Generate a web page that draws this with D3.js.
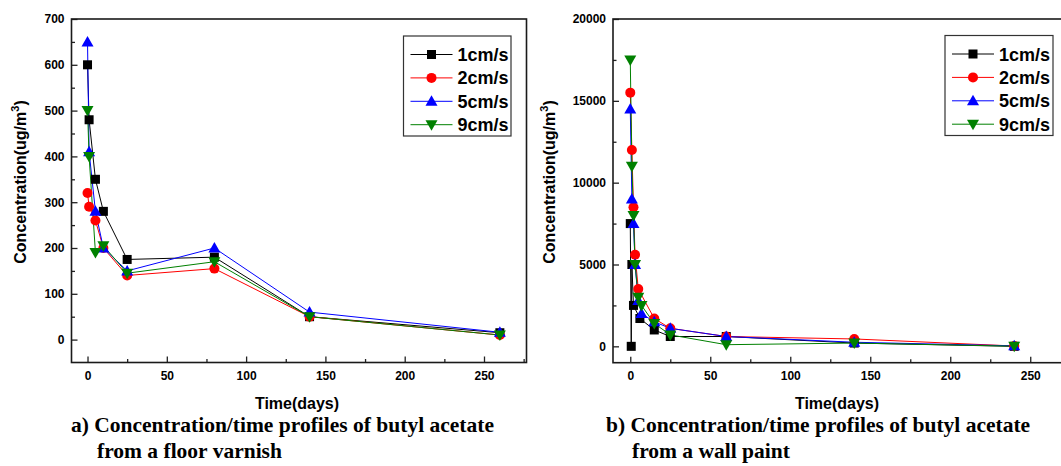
<!DOCTYPE html>
<html>
<head>
<meta charset="utf-8">
<script src="https://cdn.jsdelivr.net/npm/d3@7"></script>
<style>
  html, body { margin: 0; padding: 0; background: #fff; }
  svg { display: block; }
  .tick text { font-family: "Liberation Sans", Arial, sans-serif; font-weight: bold; font-size: 12px; fill: #000; }
</style>
</head>
<body>
<svg id="chart" width="1061" height="466"></svg>
<script>
// Air velocities compared in both panels
const speeds = ["1cm/s", "2cm/s", "5cm/s", "9cm/s"];
const speedColors = ["#000000", "#ff0000", "#0000ff", "#008000"];
const speedShapes = ["square", "circle", "up", "down"];

// Panel a) floor varnish: sampling days and concentrations (ug/m3)
const varnishDays = [0, 1, 5, 10, 25, 80, 140, 260];
const varnish1 = [600, 480, 350, 280, 175, 180, 50, 15];
const varnish2 = [320, 290, 260, 200, 140, 155, 50, 10];
const varnish5 = [650, 410, 280, 200, 150, 200, 60, 16];
const varnish9 = [500, 400, 190, 205, 145, 170, 50, 10];
const varnishYTicks = [0, 100, 200, 300, 400, 500, 600, 700];

// Panel b) wall paint: sampling days and concentrations (ug/m3)
const paintDays1 = [0, 0.6, 1, 2, 6, 15, 25, 60, 140, 240];
const paint1 = [7500, 0, 5000, 2500, 1700, 1000, 600, 600, 200, 0];
const paintDays2 = [0, 1, 2, 3, 5, 15, 25, 60, 140, 240];
const paint2 = [15500, 12000, 8500, 5600, 3500, 1700, 1100, 600, 450, 20];
const paintDays5 = [0, 1, 2, 3, 5, 7, 15, 25, 60, 140, 240];
const paint5 = [14500, 9000, 7500, 5000, 2800, 2000, 1500, 1100, 600, 250, 30];
const paintDays9 = [0, 1, 2, 3, 5, 7, 15, 25, 60, 140, 240];
const paint9 = [17500, 11000, 8000, 5000, 3000, 2500, 1400, 700, 100, 200, 10];
const paintYTicks = [0, 5000, 10000, 15000, 20000];

const xTicks = [0, 50, 100, 150, 200, 250];

const svg = d3.select("#chart");

function zip(days, vals) { return days.map((d, i) => ({ t: d, v: vals[i] })); }

function drawMarker(g, shape, color, x, y) {
  if (shape === "square") {
    g.append("rect").attr("x", x - 4.5).attr("y", y - 4.5).attr("width", 9).attr("height", 9).attr("fill", color);
  } else if (shape === "circle") {
    g.append("circle").attr("cx", x).attr("cy", y).attr("r", 5).attr("fill", color);
  } else if (shape === "up") {
    g.append("path").attr("d", `M${x},${y - 6}L${x + 6},${y + 4.5}L${x - 6},${y + 4.5}Z`).attr("fill", color);
  } else {
    g.append("path").attr("d", `M${x},${y + 6}L${x + 6},${y - 4.5}L${x - 6},${y - 4.5}Z`).attr("fill", color);
  }
}

function drawPanel(p) {
  const g = svg.append("g");
  const x = d3.scaleLinear().domain(p.xDomain).range([p.left, p.right]);
  const y = d3.scaleLinear().domain(p.yDomain).range([p.bottom, p.top]);

  // minor ticks
  g.append("g").attr("transform", `translate(0,${p.bottom})`)
    .call(d3.axisBottom(x).tickValues(xTicks.map(t => t + 25)).tickSize(-3.5).tickFormat(""))
    .call(s => s.select(".domain").remove())
    .selectAll("line").attr("stroke", "#222").attr("stroke-width", 1.3);
  g.append("g").attr("transform", `translate(${p.left},0)`)
    .call(d3.axisLeft(y).tickValues(p.yTicks.map(t => t + p.yMinorStep).filter(t => t < p.yDomain[1])).tickSize(-3.5).tickFormat(""))
    .call(s => s.select(".domain").remove())
    .selectAll("line").attr("stroke", "#222").attr("stroke-width", 1.3);

  // major ticks with labels
  const xa = g.append("g").attr("transform", `translate(0,${p.bottom})`)
    .call(d3.axisBottom(x).tickValues(xTicks).tickSize(-6).tickPadding(9).tickFormat(d3.format("d")));
  xa.select(".domain").remove();
  xa.selectAll("line").attr("stroke", "#222").attr("stroke-width", 1.3);
  const ya = g.append("g").attr("transform", `translate(${p.left},0)`)
    .call(d3.axisLeft(y).tickValues(p.yTicks).tickSize(-6).tickPadding(7).tickFormat(d3.format("d")));
  ya.select(".domain").remove();
  ya.selectAll("line").attr("stroke", "#222").attr("stroke-width", 1.3);

  // frame
  g.append("rect").attr("x", p.left).attr("y", p.top)
    .attr("width", p.right - p.left).attr("height", p.bottom - p.top)
    .attr("fill", "none").attr("stroke", "#1a1a1a").attr("stroke-width", 1.6);

  // series lines then markers
  p.series.forEach((s, i) => {
    g.append("path").datum(s)
      .attr("fill", "none").attr("stroke", speedColors[i]).attr("stroke-width", 1)
      .attr("d", d3.line().x(d => x(d.t)).y(d => y(d.v)));
  });
  p.series.forEach((s, i) => {
    const mg = g.append("g");
    s.forEach(d => drawMarker(mg, speedShapes[i], speedColors[i], x(d.t), y(d.v)));
  });

  // legend
  const lg = g.append("g");
  lg.append("rect").attr("x", p.legend.x).attr("y", p.legend.y)
    .attr("width", p.legend.w).attr("height", p.legend.h)
    .attr("fill", "#fff").attr("stroke", "#333").attr("stroke-width", 1.2);
  speeds.forEach((name, i) => {
    const ry = p.legend.y + 18.5 + i * 23.4;
    const lx = p.legend.x + 7;
    lg.append("line").attr("x1", lx).attr("x2", lx + 42).attr("y1", ry).attr("y2", ry)
      .attr("stroke", speedColors[i]).attr("stroke-width", 1);
    drawMarker(lg, speedShapes[i], speedColors[i], lx + 21, ry);
    lg.append("text").attr("x", lx + 47).attr("y", ry + 6.5)
      .attr("font-family", "Liberation Sans, Arial, sans-serif").attr("font-weight", "bold")
      .attr("font-size", 18).text(name);
  });

  // axis titles
  g.append("text").attr("x", (p.left + Math.min(p.right, 1061)) / 2 + p.xTitleShift).attr("y", 409)
    .attr("text-anchor", "middle").attr("font-family", "Liberation Sans, Arial, sans-serif")
    .attr("font-weight", "bold").attr("font-size", 16).text("Time(days)");
  const yt = g.append("text").attr("transform", `translate(${p.yTitleX},182) rotate(-90)`)
    .attr("text-anchor", "middle").attr("font-family", "Liberation Sans, Arial, sans-serif")
    .attr("font-weight", "bold").attr("font-size", 16);
  yt.append("tspan").text("Concentration(ug/m");
  yt.append("tspan").attr("font-size", 11).attr("dy", -7).text("3");
  yt.append("tspan").attr("dy", 7).text(")");

  // caption
  const cap = g.append("text").attr("font-family", "Liberation Serif, Times New Roman, serif")
    .attr("font-weight", "bold").attr("font-size", 21.5);
  cap.append("tspan").attr("x", p.capX).attr("y", 432).text(p.caption[0]);
  cap.append("tspan").attr("x", p.capX + 26).attr("y", 458).text(p.caption[1]);
}

drawPanel({
  left: 71.5, right: 526.5, top: 19, bottom: 362.5,
  xDomain: [-10.1, 276.8], yDomain: [-50, 700],
  yTicks: varnishYTicks, yMinorStep: 50,
  series: [zip(varnishDays, varnish1), zip(varnishDays, varnish2), zip(varnishDays, varnish5), zip(varnishDays, varnish9)],
  legend: { x: 403.5, y: 36, w: 107.5, h: 100 },
  xTitleShift: -2, yTitleX: 26,
  capX: 71,
  caption: ["a) Concentration/time profiles of butyl acetate", "from a floor varnish"]
});

drawPanel({
  left: 613, right: 1072, top: 19, bottom: 362.7,
  xDomain: [-10.8, 276.1], yDomain: [-1000, 20000],
  yTicks: paintYTicks, yMinorStep: 2500,
  series: [zip(paintDays1, paint1), zip(paintDays2, paint2), zip(paintDays5, paint5), zip(paintDays9, paint9)],
  legend: { x: 945, y: 35.5, w: 108, h: 100 },
  xTitleShift: 0, yTitleX: 555,
  capX: 606,
  caption: ["b) Concentration/time profiles of butyl acetate", "from a wall paint"]
});
</script>
</body>
</html>
